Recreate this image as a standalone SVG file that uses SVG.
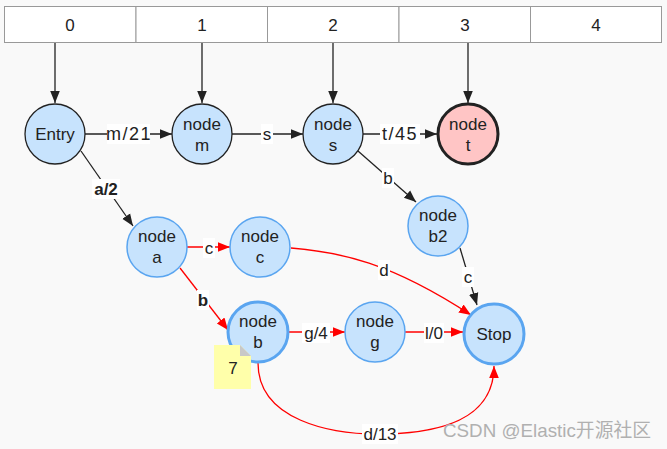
<svg xmlns="http://www.w3.org/2000/svg" width="667" height="449" viewBox="0 0 667 449">
<style>
text{font-family:"Liberation Sans",Arial,sans-serif;font-size:17px;fill:#222;text-anchor:middle;dominant-baseline:central}
.cell{fill:#fff;stroke:#999;stroke-width:1}
.node{fill:#c7e3fd;stroke:#5aa5f0;stroke-width:1.5}
.dark{stroke:#222;stroke-width:1.3}
.thick{stroke-width:3}
.blk{stroke:#222;stroke-width:1.3;fill:none}
.red{stroke:#ff0000;stroke-width:1.3;fill:none}
.lbl{fill:#fff}
.wide{font-size:18px;letter-spacing:1.5px}
</style>
<defs>
<marker id="ab" viewBox="0 0 10 10" refX="10" refY="5" markerWidth="12" markerHeight="12" markerUnits="userSpaceOnUse" orient="auto"><path d="M0,1 L10,5 L0,9 z" fill="#222"/></marker>
<marker id="ar" viewBox="0 0 10 10" refX="10" refY="5" markerWidth="12" markerHeight="12" markerUnits="userSpaceOnUse" orient="auto"><path d="M0,1 L10,5 L0,9 z" fill="#ff0000"/></marker>
</defs>
<rect width="667" height="449" fill="#f9f9f9"/>
<g id="table">
<rect class="cell" x="4.5" y="6.5" width="131.5" height="36"/>
<rect class="cell" x="136" y="6.5" width="131.5" height="36"/>
<rect class="cell" x="267.5" y="6.5" width="131.5" height="36"/>
<rect class="cell" x="399" y="6.5" width="131.5" height="36"/>
<rect class="cell" x="530.5" y="6.5" width="131" height="36"/>
<text x="70" y="25">0</text>
<text x="202" y="25">1</text>
<text x="333" y="25">2</text>
<text x="465" y="25">3</text>
<text x="596" y="25">4</text>
</g>
<g id="connectors">
<line class="blk" x1="55" y1="43" x2="55" y2="103" marker-end="url(#ab)"/>
<line class="blk" x1="202" y1="43" x2="202" y2="103" marker-end="url(#ab)"/>
<line class="blk" x1="333" y1="43" x2="333" y2="103" marker-end="url(#ab)"/>
<line class="blk" x1="468" y1="43" x2="468" y2="103" marker-end="url(#ab)"/>
<line class="blk" x1="85" y1="134" x2="172" y2="134" marker-end="url(#ab)"/>
<line class="blk" x1="232" y1="134" x2="303" y2="134" marker-end="url(#ab)"/>
<line class="blk" x1="363" y1="134" x2="437" y2="134" marker-end="url(#ab)"/>
<line class="blk" x1="358" y1="151" x2="416" y2="202" marker-end="url(#ab)"/>
<line class="blk" x1="460" y1="248" x2="477" y2="305" marker-end="url(#ab)"/>
<line class="blk" x1="81" y1="151" x2="133" y2="226" marker-end="url(#ab)"/>
<line class="red" x1="187" y1="247" x2="230" y2="247" marker-end="url(#ar)"/>
<line class="red" x1="180" y1="268" x2="228" y2="330" marker-end="url(#ar)"/>
<path class="red" d="M291,248 C340,252 390,262 471,315" marker-end="url(#ar)"/>
<line class="red" x1="289" y1="332" x2="345" y2="332" marker-end="url(#ar)"/>
<line class="red" x1="405" y1="332" x2="463" y2="332" marker-end="url(#ar)"/>
<path class="red" d="M258,363 C258,420 330,435 384,434 C440,433 494,420 494,366" marker-end="url(#ar)"/>
<rect class="lbl" x="107" y="124" width="43" height="20"/>
<text class="wide" x="129" y="134">m/21</text>
<rect class="lbl" x="261" y="124" width="12" height="20"/>
<text x="267" y="134">s</text>
<rect class="lbl" x="380" y="124" width="40" height="20"/>
<text class="wide" x="400" y="134">t/45</text>
<rect class="lbl" x="382" y="168" width="12" height="20"/>
<text x="388" y="178">b</text>
<rect class="lbl" x="462" y="267" width="12" height="20"/>
<text x="468" y="277">c</text>
<rect class="lbl" x="92" y="179" width="28" height="20"/>
<text x="106" y="189" font-weight="bold">a/2</text>
<rect class="lbl" x="203" y="238" width="12" height="20"/>
<text x="209" y="248">c</text>
<rect class="lbl" x="197" y="290" width="12" height="20"/>
<text x="203" y="300" font-weight="bold">b</text>
<rect class="lbl" x="378" y="260" width="12" height="20"/>
<text x="384" y="270">d</text>
<rect class="lbl" x="302" y="323" width="28" height="20"/>
<text x="316" y="333">g/4</text>
<rect class="lbl" x="424" y="323" width="20" height="20"/>
<text x="434" y="333">l/0</text>
<rect class="lbl" x="362" y="424" width="36" height="20"/>
<text x="380" y="434">d/13</text>
</g>
<g id="Entry"><circle class="node dark" cx="55" cy="134" r="30"/><text x="55" y="134">Entry</text></g>
<g id="node-m"><circle class="node dark" cx="202" cy="134" r="30"/><text x="202" y="124">node</text><text x="202" y="145">m</text></g>
<g id="node-s"><circle class="node dark" cx="333" cy="134" r="30"/><text x="333" y="124">node</text><text x="333" y="145">s</text></g>
<g id="node-t"><circle class="node" cx="468" cy="134" r="30" style="fill:#ffc5c5;stroke:#222;stroke-width:3"/><text x="468" y="124">node</text><text x="468" y="145">t</text></g>
<g id="node-b2"><circle class="node" cx="438" cy="226" r="30"/><text x="438" y="215">node</text><text x="438" y="236">b2</text></g>
<g id="node-a"><circle class="node" cx="157" cy="247" r="30"/><text x="157" y="236">node</text><text x="157" y="257">a</text></g>
<g id="node-c"><circle class="node" cx="260" cy="247" r="30"/><text x="260" y="236">node</text><text x="260" y="257">c</text></g>
<g id="node-b"><circle class="node thick" cx="258" cy="332" r="30"/><text x="258" y="321">node</text><text x="258" y="342">b</text></g>
<g id="node-g"><circle class="node" cx="375" cy="332" r="30"/><text x="375" y="321">node</text><text x="375" y="342">g</text></g>
<g id="Stop"><circle class="node thick" cx="494" cy="334" r="30"/><text x="494" y="334">Stop</text></g>
<g id="note">
<path d="M214,345 L240,345 L251,356 L251,389 L214,389 z" fill="#ffffaa"/>
<path d="M240,345 L251,356 L240,356 z" fill="#c8c8c8"/>
<text x="233" y="368" font-size="18">7</text>
</g>
<text x="443" y="430" textLength="208" lengthAdjust="spacingAndGlyphs" style="text-anchor:start;fill:#b0b0b0;font-size:19px;font-family:'Liberation Sans','Noto Sans CJK SC',sans-serif">CSDN @Elastic开源社区</text>
</svg>
